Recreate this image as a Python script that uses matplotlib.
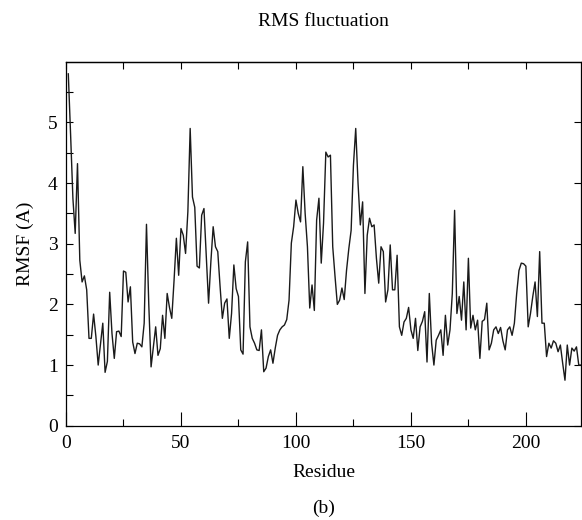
import numpy as np
import matplotlib.pyplot as plt

# =========================================
# DATA
# =========================================
residue = np.arange(1, 225)
rmsf = [
    5.80, 4.80, 3.75, 3.17, 4.32, 2.73, 2.37, 2.47, 2.24, 1.44,
    1.44, 1.84, 1.47, 1.00, 1.35, 1.69, 0.88, 1.06, 2.20, 1.52,
    1.11, 1.55, 1.56, 1.47, 2.55, 2.53, 2.04, 2.29, 1.38, 1.19,
    1.36, 1.35, 1.30, 1.69, 3.32, 2.00, 0.97, 1.30, 1.63, 1.16,
    1.27, 1.82, 1.44, 2.18, 1.95, 1.77, 2.40, 3.09, 2.48, 3.25,
    3.14, 2.84, 3.53, 4.90, 3.77, 3.60, 2.63, 2.60, 3.47, 3.58,
    2.80, 2.02, 2.70, 3.28, 2.95, 2.87, 2.30, 1.77, 2.02, 2.09,
    1.44, 1.85, 2.65, 2.26, 2.13, 1.25, 1.18, 2.70, 3.03, 1.63,
    1.44, 1.36, 1.25, 1.24, 1.58, 0.89, 0.95, 1.14, 1.25, 1.03,
    1.28, 1.49, 1.58, 1.63, 1.66, 1.75, 2.07, 3.01, 3.28, 3.72,
    3.50, 3.36, 4.27, 3.50, 2.95, 1.94, 2.32, 1.90, 3.39, 3.75,
    2.68, 3.34, 4.51, 4.43, 4.46, 2.95, 2.46, 2.00, 2.07, 2.27,
    2.08, 2.56, 2.92, 3.22, 4.29, 4.90, 4.00, 3.31, 3.69, 2.18,
    3.14, 3.42, 3.28, 3.31, 2.76, 2.35, 2.95, 2.87, 2.04, 2.24,
    2.98, 2.24, 2.24, 2.81, 1.63, 1.49, 1.71, 1.77, 1.95, 1.58,
    1.44, 1.77, 1.24, 1.63, 1.72, 1.88, 1.05, 2.18, 1.36, 1.00,
    1.41, 1.49, 1.58, 1.16, 1.82, 1.33, 1.58, 2.18, 3.55, 1.85,
    2.13, 1.74, 2.37, 1.58, 2.76, 1.61, 1.82, 1.58, 1.74, 1.11,
    1.72, 1.75, 2.02, 1.25, 1.36, 1.58, 1.63, 1.52, 1.62, 1.40,
    1.25, 1.58, 1.63, 1.49, 1.69, 2.18, 2.56, 2.68, 2.67, 2.63,
    1.63, 1.85, 2.13, 2.37, 1.80, 2.87, 1.69, 1.69, 1.14, 1.36,
    1.28, 1.40, 1.36, 1.22, 1.33, 1.03, 0.75, 1.33, 1.00, 1.28,
    1.23, 1.30, 1.00, 1.00,
]

xticks = [0, 50, 100, 150, 200]
yticks = [0, 1, 2, 3, 4, 5]

# =========================================
# PLOT
# =========================================
plt.rcParams['font.family'] = ['Liberation Serif', 'DejaVu Serif']
plt.rcParams['font.size'] = 14

fig = plt.figure(figsize=(5.82, 5.2), dpi=100)
ax = fig.add_axes([0.1134, 0.1813, 0.885, 0.70])

ax.plot(residue, rmsf, color='#1a1a1a', lw=1.0)

ax.set_xlim(0, 224)
ax.set_ylim(0, 6)
ax.set_xticks(xticks)
ax.set_xticks(np.arange(25, 224, 50), minor=True)
ax.set_yticks(yticks)
ax.set_yticks(np.arange(0.5, 6, 1.0), minor=True)

ax.tick_params(axis='x', which='major', direction='in', length=10, width=0.8, top=False, pad=7)
ax.tick_params(axis='x', which='minor', direction='in', length=5, width=0.8, top=False)
ax.tick_params(axis='y', which='major', direction='in', length=5, width=0.8, right=True, pad=6)
ax.tick_params(axis='y', which='minor', direction='in', length=5, width=0.8, right=False)

# top ticks are short, no labels
top = ax.secondary_xaxis('top')
top.set_xticks(xticks)
top.set_xticks(np.arange(25, 224, 50), minor=True)
top.tick_params(which='both', direction='in', length=5, width=0.8, labeltop=False)

for sp in ax.spines.values():
    sp.set_linewidth(0.9)
top.spines['top'].set_linewidth(0.9)

ax.set_title('RMS fluctuation', pad=26, fontsize=14)
ax.set_xlabel('Residue', labelpad=8)
ax.set_ylabel('RMSF (A)', labelpad=10)
fig.text(0.556, 0.023, '(b)', ha='center', va='center', fontsize=14)

fig.savefig('out.png', dpi=100)
